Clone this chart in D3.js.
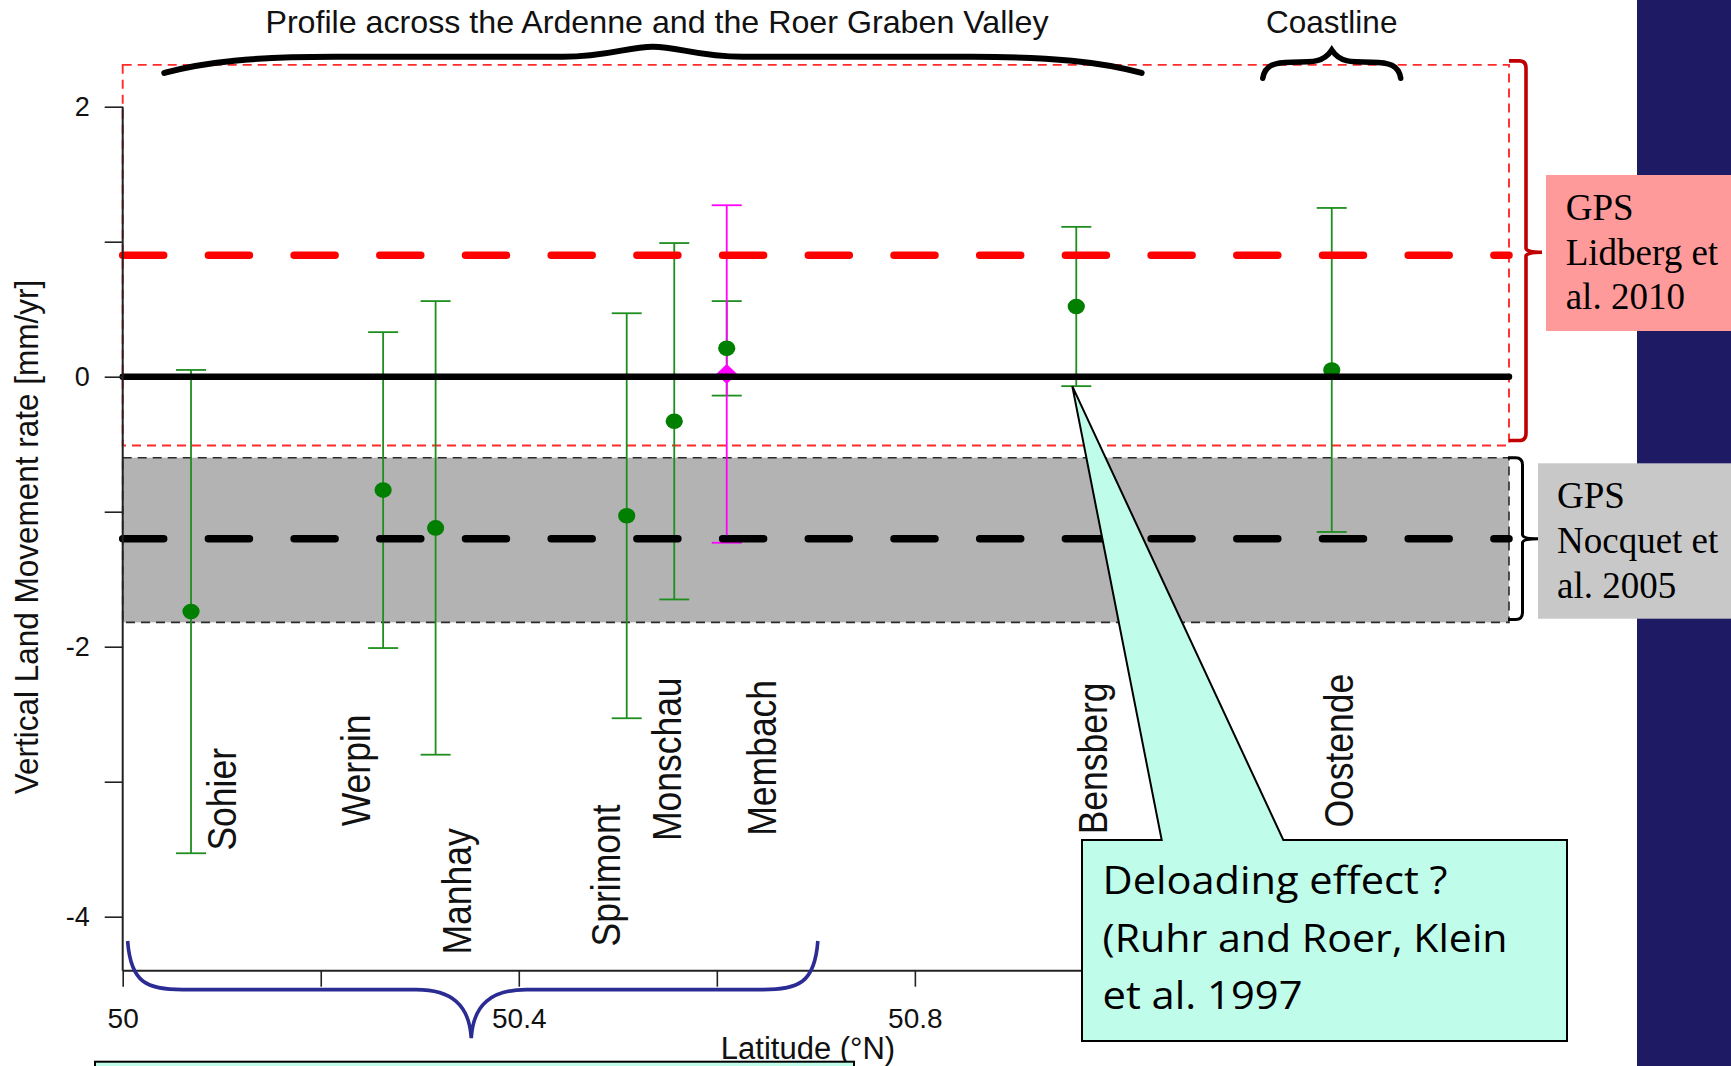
<!DOCTYPE html>
<html><head><meta charset="utf-8">
<script src="https://cdn.jsdelivr.net/npm/d3@7"></script>
<style>
html,body{margin:0;padding:0;background:#fff;overflow:hidden}
svg{display:block}
</style></head>
<body>
<svg id="chart" width="1731" height="1066"></svg>
<script>
// ---------------- data ----------------
const stations   = ["Sohier","Werpin","Manhay","Sprimont","Monschau","Membach","Bensberg","Oostende"];
const latitudes  = [50.069, 50.263, 50.316, 50.509, 50.557, 50.610, 50.963, 51.221];
const rates      = [-1.74, -0.84, -1.12, -1.03, -0.33, 0.21, 0.52, 0.05];
const errors     = [1.79, 1.17, 1.68, 1.50, 1.32, 0.35, 0.59, 1.20];
// second (magenta) estimate at Membach
const membach2Lat  = [50.610];
const membach2Rate = [0.02];
const membach2Err  = [1.25];
// where each station name is written (latitude of text baseline, rate where text starts)
const labelLat  = [50.114, 50.250, 50.352, 50.502, 50.564, 50.660, 50.994, 51.242];
const labelRate = [-3.51, -3.33, -4.28, -4.22, -3.44, -3.40, -3.39, -3.34];
// GPS reference values
const lidbergMean = 0.9,  lidbergErr = 1.41;
const nocquetMean = -1.2, nocquetBand = [-1.82, -0.6];
// axes
const yTickValues = [-4, -3, -2, -1, 0, 1, 2];
const yTickLabels = ["-4", "", "-2", "", "0", "", "2"];
const xTickValues = [50, 50.2, 50.4, 50.6, 50.8, 51.0, 51.2, 51.4];
const xTickLabels = ["50", "", "50.4", "", "50.8", "", "51.2", ""];
const xDomain = [50, 51.4];
const yDomain = [-4.4, 2.4];
// region groupings (latitude extents)
const ardenneSpan   = [50.042, 51.029];
const ardenneBlue   = [50.005, 50.702];

// ---------------- layout ----------------
const W = 1731, H = 1066;
const svg = d3.select("#chart");
const x = d3.scaleLinear().domain(xDomain).range([122.7, 1509]);
const y = d3.scaleLinear().domain(yDomain).range([970.7, 52.7]);
const SANS = "'Liberation Sans', Arial, Helvetica, sans-serif";
const SERIF = "'Liberation Serif', 'Times New Roman', serif";
const green = "#1e8e1e", greenPt = "#007f00", magenta = "#ff00ff";

svg.append("rect").attr("width", W).attr("height", H).attr("fill", "#fff");
// navy slide band on the right
svg.append("rect").attr("x", 1637).attr("y", 0).attr("width", W - 1637).attr("height", H).attr("fill", "#1e1a64");

const x0 = x(xDomain[0]), x1 = x(xDomain[1]);

// Nocquet grey band
svg.append("rect")
  .attr("x", x0).attr("y", y(nocquetBand[1]))
  .attr("width", x1 - x0).attr("height", y(nocquetBand[0]) - y(nocquetBand[1]))
  .attr("fill", "#b3b3b3").attr("stroke", "#2a2a2a").attr("stroke-width", 1.6)
  .attr("stroke-dasharray", "9,6");

// Lidberg red dashed box
svg.append("rect")
  .attr("x", x0).attr("y", y(lidbergMean + lidbergErr))
  .attr("width", x1 - x0).attr("height", y(lidbergMean - lidbergErr) - y(lidbergMean + lidbergErr))
  .attr("fill", "none").attr("stroke", "#ff2a2a").attr("stroke-width", 1.9)
  .attr("stroke-dasharray", "9,6");

// error bars
const cap = 15;
const bars = svg.append("g").attr("stroke", green).attr("stroke-width", 1.8).attr("fill", "none");
stations.forEach((s, i) => {
  const cx = x(latitudes[i]), top = y(rates[i] + errors[i]), bot = y(rates[i] - errors[i]);
  bars.append("line").attr("x1", cx).attr("x2", cx).attr("y1", top).attr("y2", bot);
  bars.append("line").attr("x1", cx - cap).attr("x2", cx + cap).attr("y1", top).attr("y2", top);
  bars.append("line").attr("x1", cx - cap).attr("x2", cx + cap).attr("y1", bot).attr("y2", bot);
});
// magenta Membach bar
const mb = svg.append("g").attr("stroke", magenta).attr("stroke-width", 1.8);
membach2Lat.forEach((lat, i) => {
  const cx = x(lat), top = y(membach2Rate[i] + membach2Err[i]), bot = y(membach2Rate[i] - membach2Err[i]);
  mb.append("line").attr("x1", cx).attr("x2", cx).attr("y1", top).attr("y2", bot);
  mb.append("line").attr("x1", cx - cap).attr("x2", cx + cap).attr("y1", top).attr("y2", top);
  mb.append("line").attr("x1", cx - cap).attr("x2", cx + cap).attr("y1", bot).attr("y2", bot);
  const cy = y(membach2Rate[i]);
  svg.append("path")
    .attr("d", `M${cx},${cy - 10} L${cx + 10.5},${cy} L${cx},${cy + 10} L${cx - 10.5},${cy} Z`)
    .attr("fill", magenta);
});

// points
svg.append("g").selectAll("ellipse").data(stations).join("ellipse")
  .attr("cx", (d, i) => x(latitudes[i])).attr("cy", (d, i) => y(rates[i]))
  .attr("rx", 8.6).attr("ry", 7.8).attr("fill", greenPt);

// thick dashed mean lines
svg.append("line").attr("x1", x0).attr("x2", x1).attr("y1", y(lidbergMean)).attr("y2", y(lidbergMean))
  .attr("stroke", "#ff0000").attr("stroke-width", 7.5).attr("stroke-linecap", "round")
  .attr("stroke-dasharray", "41,44.7");
svg.append("line").attr("x1", x0).attr("x2", x1).attr("y1", y(nocquetMean)).attr("y2", y(nocquetMean))
  .attr("stroke", "#000").attr("stroke-width", 7.5).attr("stroke-linecap", "round")
  .attr("stroke-dasharray", "41,44.7");
// zero line
svg.append("line").attr("x1", x0).attr("x2", x1).attr("y1", y(0)).attr("y2", y(0))
  .attr("stroke", "#000").attr("stroke-width", 6.5).attr("stroke-linecap", "round");

// axes
const yAx = svg.append("g").attr("transform", `translate(${x0},0)`)
  .call(d3.axisLeft(y).tickValues(yTickValues).tickSize(18).tickSizeOuter(0).tickPadding(15)
    .tickFormat(d => yTickLabels[yTickValues.indexOf(d)]));
yAx.select(".domain").remove();
yAx.selectAll("line").attr("stroke", "#222").attr("stroke-width", 1.6);
yAx.selectAll("text").attr("font-family", SANS).attr("font-size", 27).attr("fill", "#111");

const xAx = svg.append("g").attr("transform", `translate(0,${y(yDomain[0])})`)
  .call(d3.axisBottom(x).tickValues(xTickValues).tickSize(16).tickSizeOuter(0).tickPadding(21)
    .tickFormat(d => xTickLabels[xTickValues.indexOf(d)]));
xAx.select(".domain").remove();
xAx.selectAll("line").attr("stroke", "#222").attr("stroke-width", 1.6);
xAx.selectAll("text").attr("font-family", SANS).attr("font-size", 28).attr("fill", "#111");
svg.append("line").attr("x1", x0).attr("x2", x0).attr("y1", y(2)).attr("y2", y(yDomain[0]))
  .attr("stroke", "#222").attr("stroke-width", 2);
svg.append("line").attr("x1", x0).attr("x2", x1).attr("y1", y(yDomain[0])).attr("y2", y(yDomain[0]))
  .attr("stroke", "#222").attr("stroke-width", 2);

// station labels
svg.append("g").selectAll("text").data(stations).join("text")
  .attr("transform", (d, i) => `translate(${x(labelLat[i])},${y(labelRate[i])}) scale(1.14,1) rotate(-90)`)
  .attr("font-family", SANS).attr("font-size", 35.5).attr("fill", "#111")
  .text(d => d);

// axis titles
svg.append("text").attr("transform", `translate(38,537) scale(1.04,1) rotate(-90)`)
  .attr("text-anchor", "middle").attr("font-family", SANS).attr("font-size", 31.5).attr("fill", "#111")
  .text("Vertical Land Movement rate [mm/yr]");
svg.append("text").attr("x", 808).attr("y", 1059).attr("text-anchor", "middle")
  .attr("font-family", SANS).attr("font-size", 31).attr("fill", "#111")
  .text("Latitude (°N)");

// top annotations
const xa = x(ardenneSpan[0]), xb = x(ardenneSpan[1]), xc = (xa + xb) / 2;
svg.append("text").attr("x", xc + 4).attr("y", 33).attr("text-anchor", "middle")
  .attr("font-family", SANS).attr("font-size", 32.2).attr("fill", "#111")
  .text("Profile across the Ardenne and the Roer Graben Valley");
{
  const yE = y(2.25), yF = y(2.37), yT = y(2.445);
  svg.append("path")
    .attr("d", `M${xa},${yE} C${xa + 40},${yE - 11} ${xa + 90},${yF} ${xa + 170},${yF}
      L${xc - 90},${yF} C${xc - 45},${yF} ${xc - 25},${yT} ${xc},${yT}
      C${xc + 25},${yT} ${xc + 45},${yF} ${xc + 90},${yF}
      L${xb - 170},${yF} C${xb - 90},${yF} ${xb - 40},${yE - 11} ${xb},${yE}`)
    .attr("fill", "none").attr("stroke", "#000").attr("stroke-width", 6).attr("stroke-linecap", "round");
}
const xo = x(latitudes[7]);
svg.append("text").attr("x", xo).attr("y", 33).attr("text-anchor", "middle")
  .attr("font-family", SANS).attr("font-size", 31.5).attr("fill", "#111").text("Coastline");
{
  const yE = y(2.21), yF = y(2.33), yT = y(2.42), w = 69;
  svg.append("path")
    .attr("d", `M${xo - w},${yE} C${xo - w + 2},${yF + 3} ${xo - w + 12},${yF} ${xo - 40},${yF}
      C${xo - 18},${yF} ${xo - 8},${yF} ${xo},${yT}
      C${xo + 8},${yF} ${xo + 18},${yF} ${xo + 40},${yF}
      C${xo + w - 12},${yF} ${xo + w - 2},${yF + 3} ${xo + w},${yE}`)
    .attr("fill", "none").attr("stroke", "#000").attr("stroke-width", 5.5).attr("stroke-linecap", "round");
}

// right brackets
function bracket(xL, xV, xT, yT, yM, yB, color, sw) {
  const r = 7;
  svg.append("path")
    .attr("d", `M${xL},${yT} L${xV - r},${yT} Q${xV},${yT} ${xV},${yT + r} L${xV},${yM - 4}
      Q${xV},${yM} ${xT},${yM} Q${xV},${yM} ${xV},${yM + 4} L${xV},${yB - r} Q${xV},${yB} ${xV - r},${yB} L${xL},${yB}`)
    .attr("fill", "none").attr("stroke", color).attr("stroke-width", sw);
}
bracket(x1, x1 + 17, x1 + 33, y(lidbergMean + lidbergErr) - 4, y(lidbergMean) - 3, y(lidbergMean - lidbergErr) - 5, "#c00000", 3.6);
bracket(x1 - 1, x1 + 13.5, x1 + 29.5, y(nocquetBand[1]), y(nocquetMean), y(nocquetBand[0]) - 3, "#000", 3);

// legend boxes
svg.append("rect").attr("x", 1546).attr("y", 175).attr("width", W - 1546).attr("height", 156).attr("fill", "#ff9a9a");
svg.append("g").selectAll("text").data(["GPS", "Lidberg et", "al. 2010"]).join("text")
  .attr("x", 1565.7).attr("y", (d, i) => 220 + i * 44.6)
  .attr("font-family", SERIF).attr("font-size", 37).attr("fill", "#000").text(d => d);
svg.append("rect").attr("x", 1538).attr("y", 463.3).attr("width", W - 1538).attr("height", 155.4).attr("fill", "#c8c8c8");
svg.append("g").selectAll("text").data(["GPS", "Nocquet et", "al. 2005"]).join("text")
  .attr("x", 1557).attr("y", (d, i) => 508.3 + i * 45)
  .attr("font-family", SERIF).attr("font-size", 37).attr("fill", "#000").text(d => d);

// blue brace under the Ardenne stations
{
  const ba = x(ardenneBlue[0]), bb = x(ardenneBlue[1]), bc = x(50.352) ;
  const yE = y(-4.18), yF = y(-4.54), yT = y(-4.9);
  svg.append("path")
    .attr("d", `M${ba},${yE} C${ba + 3},${yF - 6} ${ba + 20},${yF} ${ba + 55},${yF}
      L${bc - 55},${yF} C${bc - 20},${yF} ${bc - 2},${yF + 15} ${bc},${yT}
      C${bc + 2},${yF + 15} ${bc + 20},${yF} ${bc + 55},${yF}
      L${bb - 55},${yF} C${bb - 20},${yF} ${bb - 3},${yF - 6} ${bb},${yE}`)
    .attr("fill", "none").attr("stroke", "#2b2b94").attr("stroke-width", 3.6);
}

// bottom (cut-off) mint box
svg.append("rect").attr("x", 95).attr("y", 1061.7).attr("width", 759).attr("height", 30)
  .attr("fill", "#bffcea").attr("stroke", "#000").attr("stroke-width", 2);

// callout
{
  const tipX = x(latitudes[6]) - 4, tipY = y(rates[6] - errors[6]);
  const bx = 1082, by = 840, bw = 485, bh = 201;
  svg.append("path")
    .attr("d", `M${bx},${by} L${bx + 79.7},${by} L${tipX},${tipY} L${bx + 201.3},${by} L${bx + bw},${by}
      L${bx + bw},${by + bh} L${bx},${by + bh} Z`)
    .attr("fill", "#bffcea").attr("stroke", "#000").attr("stroke-width", 2).attr("stroke-linejoin", "miter");
  const lines = ["Deloading effect ?", "(Ruhr and Roer, Klein", "et al. 1997"];
  const lens = [345, 405, 200];
  svg.append("g").selectAll("text").data(lines).join("text")
    .attr("x", 1102.5).attr("y", (d, i) => 894 + i * 57.6)
    .attr("font-family", "'Open Sans', 'Noto Sans', sans-serif").attr("font-size", 38).attr("fill", "#000")
    .attr("textLength", (d, i) => lens[i]).attr("lengthAdjust", "spacingAndGlyphs")
    .text(d => d);
}
</script>
</body></html>
